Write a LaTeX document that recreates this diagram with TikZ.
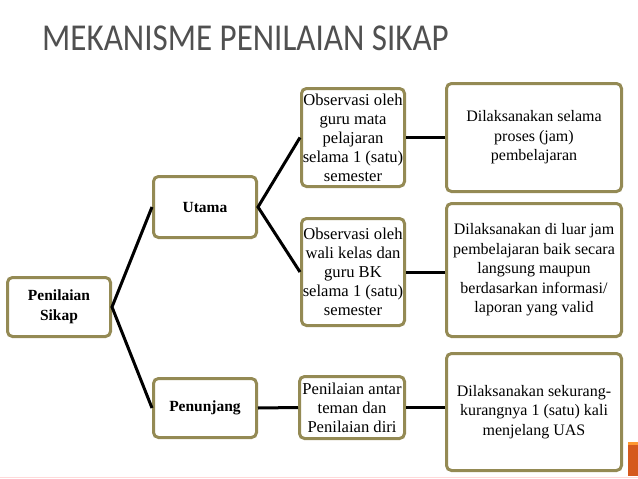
\documentclass[tikz,border=0pt]{standalone}
\usepackage{fontspec}
\setmainfont{Liberation Serif}
\newfontfamily\titlefont{Carlito}
\definecolor{rim}{HTML}{948A54}
\definecolor{titlegray}{HTML}{505050}
\definecolor{accent}{HTML}{D55A1E}
\tikzstyle{box} = [draw=rim, line width=3pt, rounded corners=5pt, fill=white, align=center, inner sep=0pt, font=\fontsize{16}{19.5}\selectfont]
\tikzstyle{obsbox} = [box, font=\fontsize{16.6}{19}\selectfont]
\tikzstyle{head} = [box, font=\fontsize{15.5}{20}\selectfont\bfseries]
\tikzstyle{link} = [line width=3pt, black]

\begin{document}
\begin{tikzpicture}[x=1pt, y=-1pt]%
				\useasboundingbox (0,0) rectangle (638,479);%
				\node (title) [anchor=base west, inner sep=0pt, text=titlegray, font=\titlefont\fontsize{38}{40}\selectfont] at (42,50) {\scalebox{0.87}[1]{MEKANISME PENILAIAN SIKAP}};%
				\node (sikap) [head, minimum width=103pt, minimum height=59pt] at (59,307) {Penilaian\\Sikap};%
				\node (utama) [head, minimum width=103pt, minimum height=61pt] at (205,207) {Utama};%
				\node (tunjang) [head, minimum width=103pt, minimum height=59pt] at (205,408) {Penunjang};%
				\node (obsguru) [obsbox, minimum width=103pt, minimum height=98pt] at (353,137.5) {Observasi oleh\\guru mata\\pelajaran\\selama 1 (satu)\\semester};%
				\node (obswali) [obsbox, minimum width=103pt, minimum height=107pt] at (353,272) {Observasi oleh\\wali kelas dan\\guru BK\\selama 1 (satu)\\semester};%
				\node (antar) [obsbox, minimum width=105pt, minimum height=62pt] at (352,407.5) {Penilaian antar\\teman dan\\Penilaian diri};%
				\node (proses) [box, minimum width=175pt, minimum height=108pt] at (534,137.5) {Dilaksanakan selama\\proses (jam)\\pembelajaran};%
				\node (luar) [box, minimum width=175pt, minimum height=133pt] at (534,270) {Dilaksanakan di luar jam\\pembelajaran baik secara\\langsung maupun\\berdasarkan informasi/\\laporan yang valid};%
				\node (uas) [box, minimum width=175pt, minimum height=117pt] at (534,412) {Dilaksanakan sekurang-\\kurangnya 1 (satu) kali\\menjelang UAS};%
				\draw[link] (utama.west) -- (sikap.east) -- (tunjang.west);%
				\draw[link] (obsguru.west) -- (utama.east) -- (obswali.west);%
				\draw[link] (obsguru.east) -- (proses.west);%
				\draw[link] (obswali.east) -- (obswali.east -| luar.west);%
				\draw[link] (tunjang.east) -- (antar.west);%
				\draw[link] (antar.east) -- (antar.east -| uas.west);%
				\fill[accent] (628,442) rectangle (638,476);%
				\fill[orange!80] (628,442) rectangle (638,445);%
				\draw[red!15, line width=1pt] (0,477) -- (638,477);%
	\end{tikzpicture}
\end{document}
